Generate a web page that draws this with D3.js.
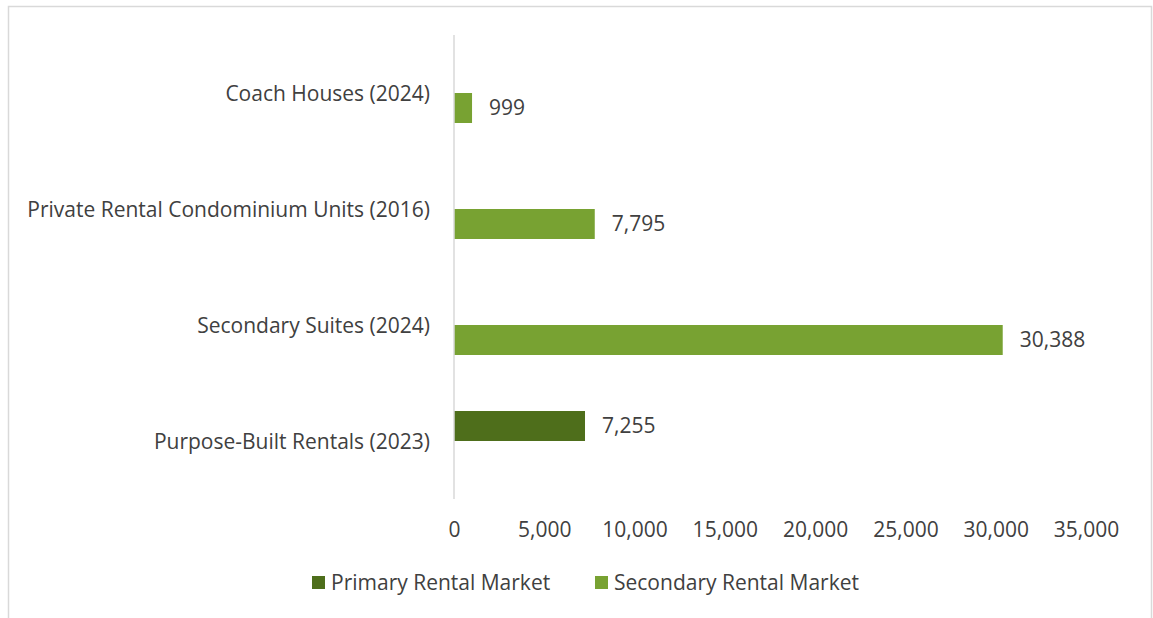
<!DOCTYPE html>
<html>
<head>
<meta charset="utf-8">
<script src="https://cdn.jsdelivr.net/npm/d3@7"></script>
<style>
  body { margin: 0; background: #fff; }
  svg text { font-family: "Open Sans", "Noto Sans", sans-serif; fill: #404040; }
</style>
</head>
<body>
<div id="chart"></div>
<script>
// Chart data
const categories = [
    "Coach Houses (2024)",
    "Private Rental Condominium Units (2016)",
    "Secondary Suites (2024)",
    "Purpose-Built Rentals (2023)"
];
const seriesNames = ["Primary Rental Market", "Secondary Rental Market"];
const primaryValues = [null, null, null, 7255];
const secondaryValues = [999, 7795, 30388, null];
const xTicks = [0, 5000, 10000, 15000, 20000, 25000, 30000, 35000];

const colors = { "Primary Rental Market": "#4e6e1b", "Secondary Rental Market": "#78a232" };
const fontSize = 21;

const width = 1153, height = 618;
const svg = d3.select("#chart").append("svg")
    .attr("width", width)
    .attr("height", height);

// Outer frame (bottom edge falls outside the picture)
svg.append("rect")
    .attr("x", 8.5).attr("y", 6.5)
    .attr("width", 1143).attr("height", 700)
    .attr("fill", "none")
    .attr("stroke", "#d9d9d9")
    .attr("stroke-width", 1.5);

const plot = { left: 454, right: 1086, top: 35, bottom: 499 };

const x = d3.scaleLinear()
    .domain([0, 35000])
    .range([plot.left, plot.right]);

const y0 = d3.scaleBand()
    .domain(categories)
    .range([plot.top, plot.bottom])
    .paddingInner(0.4828)
    .paddingOuter(0.2414);

const y1 = d3.scaleBand()
    .domain(seriesNames)
    .range([0, y0.bandwidth()]);

// Build rows from the arrays
const rows = [];
categories.forEach((c, i) => {
    if (primaryValues[i] != null) rows.push({ cat: c, series: seriesNames[0], value: primaryValues[i] });
    if (secondaryValues[i] != null) rows.push({ cat: c, series: seriesNames[1], value: secondaryValues[i] });
});

// Bars
svg.append("g").selectAll("rect")
    .data(rows)
    .join("rect")
    .attr("x", x(0))
    .attr("y", d => y0(d.cat) + y1(d.series))
    .attr("width", d => x(d.value) - x(0))
    .attr("height", y1.bandwidth())
    .attr("fill", d => colors[d.series]);

// Vertical axis line
svg.append("line")
    .attr("x1", x(0)).attr("x2", x(0))
    .attr("y1", plot.top).attr("y2", plot.bottom)
    .attr("stroke", "#d9d9d9")
    .attr("stroke-width", 1.5);

// Value labels
svg.append("g").selectAll("text")
    .data(rows)
    .join("text")
    .attr("x", d => x(d.value) + 17)
    .attr("y", d => y0(d.cat) + y1(d.series) + y1.bandwidth() / 2)
    .attr("dy", "0.35em")
    .attr("font-size", fontSize)
    .text(d => d3.format(",")(d.value));

// Category labels
const yAxis = svg.append("g")
    .attr("transform", `translate(${plot.left - 24},1)`)
    .call(d3.axisLeft(y0).tickSize(0).tickPadding(0));
yAxis.select(".domain").remove();
yAxis.selectAll("text")
    .attr("font-size", fontSize)
    .attr("font-family", null)
    .attr("fill", null);

// X axis labels
const xAxis = svg.append("g")
    .attr("transform", `translate(0,${plot.bottom + 23})`)
    .call(d3.axisBottom(x).tickValues(xTicks).tickFormat(d3.format(",")).tickSize(0).tickPadding(0));
xAxis.select(".domain").remove();
xAxis.selectAll("text")
    .attr("font-size", fontSize)
    .attr("font-family", null)
    .attr("fill", null)
    .attr("dy", "0.71em");

// Legend
const legendX = [312, 595];
const legend = svg.append("g").selectAll("g")
    .data(seriesNames)
    .join("g")
    .attr("transform", (d, i) => `translate(${legendX[i]},583)`);
legend.append("rect")
    .attr("x", 0).attr("y", -7)
    .attr("width", 13).attr("height", 13)
    .attr("fill", d => colors[d]);
legend.append("text")
    .attr("x", 19)
    .attr("dy", "0.35em")
    .attr("font-size", fontSize)
    .text(d => d);
</script>
</body>
</html>
